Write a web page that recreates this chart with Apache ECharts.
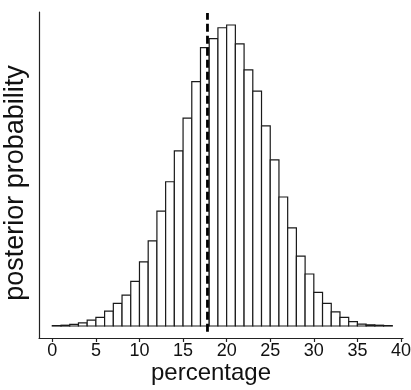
<!DOCTYPE html>
<html>
<head>
<meta charset="utf-8">
<script src="https://cdn.jsdelivr.net/npm/echarts@6/dist/echarts.min.js"></script>
<style>
  html, body { margin: 0; padding: 0; background: #fff; }
  #chart { width: 411px; height: 390px; }
</style>
</head>
<body>
<div id="chart"></div>
<script>
// histogram bins: [start, start + 1) in percent
const binStarts = [
  0, 1, 2, 3, 4, 5, 6, 7, 8, 9,
  10, 11, 12, 13, 14, 15, 16, 17, 18, 19,
  20, 21, 22, 23, 24, 25, 26, 27, 28, 29,
  30, 31, 32, 33, 34, 35, 36, 37, 38
];
// posterior probability per bin
const probs = [
  0.0001, 0.0002, 0.0004, 0.0008, 0.0015, 0.0022, 0.0038, 0.0058, 0.0079, 0.0114,
  0.0164, 0.0218, 0.0294, 0.0369, 0.0448, 0.0532, 0.0625, 0.0712, 0.0735, 0.0763,
  0.0770, 0.0722, 0.0655, 0.0601, 0.0512, 0.0425, 0.0330, 0.0251, 0.0179, 0.0133,
  0.0086, 0.0058, 0.0036, 0.0022, 0.0011, 0.0005, 0.0003, 0.0002, 0.0001
];
const xTicks = [0, 5, 10, 15, 20, 25, 30, 35, 40];
const refLine = 17.8; // dashed vertical line

const chart = echarts.init(document.getElementById("chart"));

chart.setOption({
  backgroundColor: "#fff",
  animation: false,
  textStyle: { fontFamily: "Liberation Sans, Arial, sans-serif" },
  grid: { left: 39, right: 8, top: 12, bottom: 52, outerBoundsMode: "none", containLabel: false },
  xAxis: {
    type: "value",
    min: -1.526,
    max: 40.23,
    name: "percentage",
    nameLocation: "middle",
    nameGap: 23,
    nameMoveOverlap: false,
    nameTextStyle: { fontSize: 24, color: "#111", padding: [0, 20, 0, 0] },
    axisLine: { show: true, onZero: false, lineStyle: { color: "#222", width: 1.2 } },
    axisTick: { show: true, length: 4, customValues: xTicks, lineStyle: { color: "#222", width: 1.2 } },
    axisLabel: { customValues: xTicks, fontSize: 18, color: "#111", margin: 4 },
    splitLine: { show: false },
  },
  yAxis: {
    type: "value",
    min: -0.00307,
    max: 0.08033,
    name: "posterior probability",
    nameLocation: "middle",
    nameGap: 10,
    nameMoveOverlap: false,
    nameTextStyle: { fontSize: 27, color: "#111", padding: [0, 16, 0, 0] },
    axisLine: { show: true, onZero: false, lineStyle: { color: "#222", width: 1.2 } },
    axisTick: { show: false },
    axisLabel: { show: false },
    splitLine: { show: false },
  },
  series: [
    {
      type: "custom",
      data: binStarts.map((b, i) => [b, probs[i]]),
      encode: { x: 0, y: 1 },
      renderItem: (params, api) => {
        const start = api.value(0);
        const p0 = api.coord([start, 0]);
        const p1 = api.coord([start + 1, api.value(1)]);
        return {
          type: "rect",
          shape: { x: p0[0], y: p1[1], width: p1[0] - p0[0], height: p0[1] - p1[1] },
          style: { fill: "#fff", stroke: "#1a1a1a", lineWidth: 1.2 },
        };
      },
    },
    {
      type: "line",
      data: [[refLine, -0.0015], [refLine, 0.0801]],
      symbol: "none",
      lineStyle: { color: "#000", width: 2.8, type: [8, 4] },
      z: 5,
    },
  ],
});
</script>
</body>
</html>
